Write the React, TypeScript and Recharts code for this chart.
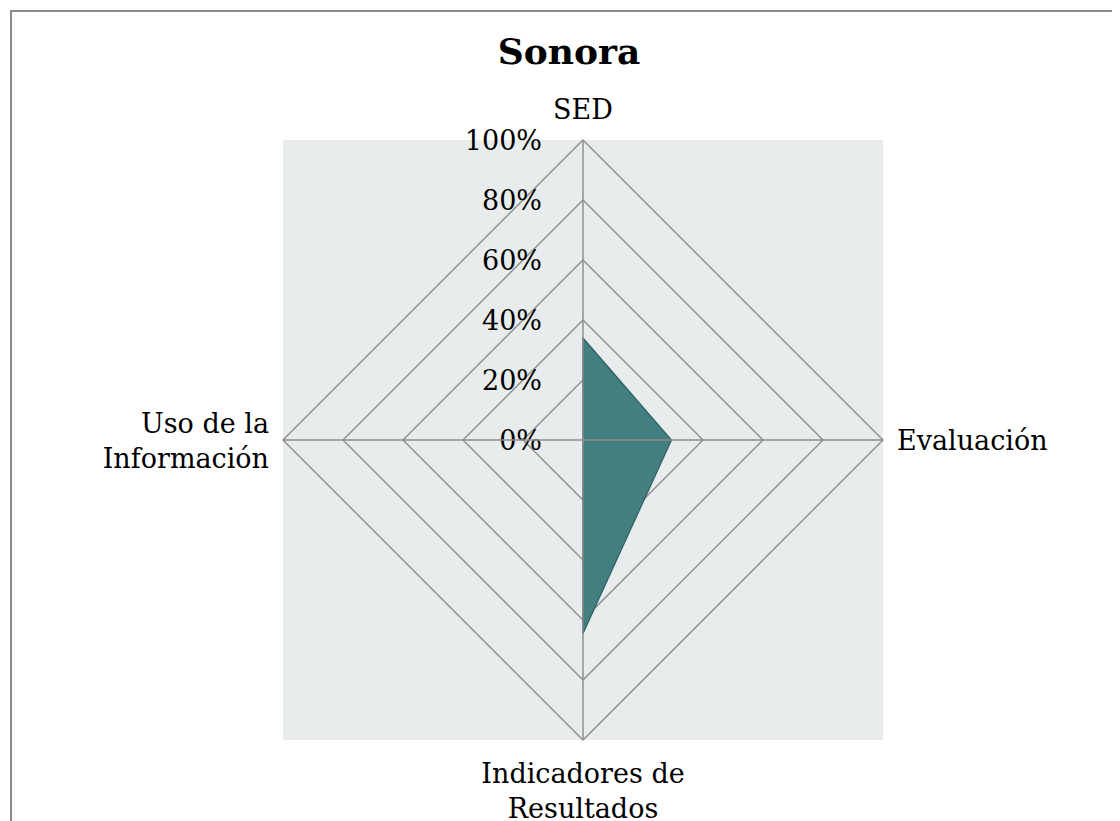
import { RadarChart, Radar, PolarGrid, PolarAngleAxis, PolarRadiusAxis } from 'recharts';

const categories = ['SED', 'Evaluación', 'Indicadores de Resultados', 'Uso de la Información'];
const categoryLines = [['SED'], ['Evaluación'], ['Indicadores de', 'Resultados'], ['Uso de la', 'Información']];
const values = [0.34, 0.295, 0.645, 0];
const radiusTicks = [0, 0.2, 0.4, 0.6, 0.8, 1];

const W = 1104;
const H = 813;
const CX = 575;
const CY = 432;
const R = 300;
const FONT = '"DejaVu Serif", Georgia, serif';
const GRID = '#8c8c8c';

const data = categories.map((name, i) => ({ name, value: values[i] }));

function RadiusTick(props: any) {
  const { x, y, payload } = props;
  return (
    <text x={x - 41} y={y} textAnchor="end" dominantBaseline="central" fontFamily={FONT} fontSize={27} fill="#000">
      {`${Math.round(payload.value * 100)}%`}
    </text>
  );
}

function AngleTick(props: any) {
  const { x, y, index } = props;
  const lines = categoryLines[index] ?? [];
  const common = { fontFamily: FONT, fontSize: 27, fill: '#000' };
  if (index === 0) {
    return <text x={x} y={y - 13} textAnchor="middle" {...common}>{lines[0]}</text>;
  }
  if (index === 1) {
    return <text x={x + 6} y={y + 10} textAnchor="start" {...common}>{lines[0]}</text>;
  }
  if (index === 2) {
    return (
      <text x={x} y={y + 35} textAnchor="middle" {...common}>
        {lines.map((l, i) => (
          <tspan key={i} x={x} dy={i === 0 ? 0 : 35}>{l}</tspan>
        ))}
      </text>
    );
  }
  return (
    <text x={x - 6} y={y - 7} textAnchor="end" {...common}>
      {lines.map((l, i) => (
        <tspan key={i} x={x - 6} dy={i === 0 ? 0 : 35}>{l}</tspan>
      ))}
    </text>
  );
}

export default function App() {
  return (
    <div style={{ position: 'relative', width: W, height: H, overflow: 'hidden', background: '#fff' }}>
      <div
        style={{
          position: 'absolute',
          left: 2,
          top: 2,
          width: 1130,
          height: 900,
          border: `2px solid ${GRID}`,
          boxSizing: 'border-box',
        }}
      />
      <div
        style={{
          position: 'absolute',
          left: CX - R,
          top: CY - R,
          width: 2 * R,
          height: 2 * R,
          background: '#e8eced',
        }}
      />
      <div
        style={{
          position: 'absolute',
          left: 0,
          top: 22,
          width: 1122,
          textAlign: 'center',
          fontFamily: FONT,
          fontWeight: 'bold',
          fontSize: 36,
          color: '#000',
        }}
      >
        Sonora
      </div>
      <div style={{ position: 'absolute', left: 0, top: 0 }}>
        <RadarChart width={W} height={H} data={data} cx={CX} cy={CY} outerRadius={R} startAngle={90} endAngle={-270}>
          <PolarGrid gridType="polygon" radialLines={false} stroke={GRID} strokeWidth={1.4} strokeOpacity={1} />
          <PolarAngleAxis dataKey="name" tick={<AngleTick />} tickLine={false} axisLine={false} />
          <PolarRadiusAxis
            angle={90}
            domain={[0, 1]}
            ticks={radiusTicks as any}
            tickCount={6}
            tick={<RadiusTick />}
            tickLine={false}
            axisLine={false}
          />
          <Radar dataKey="value" fill="#437e80" fillOpacity={1} stroke="#2c6163" strokeWidth={1.2} dot={false} isAnimationActive={false} />
        </RadarChart>
      </div>
      {/* radial axis lines sit on top of the filled area, as in the original */}
      <div style={{ position: 'absolute', left: 0, top: 0 }}>
        <RadarChart width={W} height={H} data={data} cx={CX} cy={CY} outerRadius={R} startAngle={90} endAngle={-270}>
          <PolarGrid gridType="polygon" polarRadius={[0.5]} stroke={GRID} strokeWidth={1.4} strokeOpacity={1} />
          <PolarAngleAxis dataKey="name" tick={false} tickLine={false} axisLine={false} />
          <PolarRadiusAxis
            angle={90}
            domain={[0, 1]}
            tickCount={6}
            tick={false}
            tickLine={false}
            axisLine={{ stroke: GRID, strokeWidth: 2 }}
          />
        </RadarChart>
      </div>
    </div>
  );
}
